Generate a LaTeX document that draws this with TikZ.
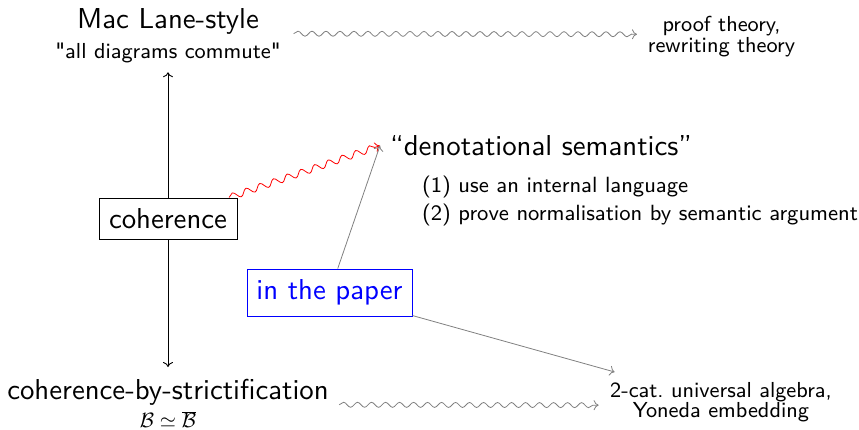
\documentclass[tikz,border=0pt]{standalone}
\usepackage{fontspec}
\newfontfamily\bigsf{lmsans10-regular.otf}
\newfontfamily\smallsf{lmsans9-regular.otf}
\usetikzlibrary{decorations.pathmorphing,arrows.meta}
\newcommand\tightlines{\lineskiplimit=-50pt\relax}
\newcommand\bigtext{\bigsf\fontsize{28.8}{34}\selectfont}
\begin{document}
\begin{tikzpicture}[x=1pt,y=-1pt,
  big/.style={font=\bigtext},
  small/.style={font=\smallsf\fontsize{22}{26}\selectfont},
  plain/.style={inner sep=0pt, outer sep=0pt},
  boxed/.style={draw, line width=1pt, inner sep=0pt, minimum width=138pt, minimum height=41pt},
  arr/.style={line width=0.9pt, -{To[length=5pt,width=10pt]}},
  grayarr/.style={draw=gray, line width=0.8pt, -{To[length=5pt,width=10pt]}},
  wavy/.style={draw=gray, line width=0.8pt, -{To[length=5pt,width=10pt]},
    decorate, decoration={snake, segment length=14pt, amplitude=2.5pt, post length=5pt}},
  redwavy/.style={draw=red, line width=0.8pt, -{To[length=5pt,width=10pt]},
    decorate, decoration={snake, segment length=14.5pt, amplitude=3.3pt, post length=5pt}}
]
\useasboundingbox (0,0) rectangle (859,429);

% left column
\node[plain, align=center, anchor=north, font=\smallsf\fontsize{21.7}{29.5}\selectfont] (maclane) at (168,9)
  {{\bigtext Mac Lane-style}\\"all diagrams commute"};
\node[boxed, big] (coherence) at (168,218.5) {coherence};
\node[plain, align=center, anchor=north, font=\smallsf\fontsize{21.7}{28}\selectfont\tightlines] (strict) at (168,379)
  {{\bigtext coherence-by-strictification}\\$\mathcal{B}\simeq\overline{\mathcal{B}}$};

% right column
\node[plain, align=center, anchor=north, font=\smallsf\fontsize{21.7}{21}\selectfont\tightlines] (proof) at (721.5,15.9)
  {proof theory,\\rewriting theory};
\node[big, inner xsep=10pt, inner ysep=0pt, anchor=base west] (denot) at (380,155.5) {“denotational semantics”};
\node[small, plain, anchor=base west] (item1) at (422,192) {(1) use an internal language};
\node[small, plain, anchor=base west] (item2) at (422,220) {(2) prove normalisation by semantic argument};
\node[plain, align=center, anchor=north, font=\smallsf\fontsize{21.7}{20}\selectfont\tightlines] (alg) at (721,382.9)
  {2-cat.\ universal algebra,\\Yoneda embedding};

\node[draw=blue, text=blue, line width=1pt, big, inner sep=0pt, minimum width=165pt, minimum height=47pt] (paper) at (329.5,292.5) {in the paper};

% connectors
\draw[arr, shorten >=9.3pt] (coherence.north) -- (maclane.south);
\draw[arr, shorten >=12pt] (coherence.south) -- (strict.north);
\draw[wavy] ([xshift=13pt,yshift=2.3pt]maclane.east) -- ([xshift=-11pt,yshift=2pt]proof.west);
\draw[wavy] ([xshift=10.5pt,yshift=-1.6pt]strict.east) -- ([xshift=-11.5pt,yshift=-2.5pt]alg.west);
\draw[redwavy] (coherence) -- (denot.west);
\draw[grayarr] (paper) -- (denot.west);
\draw[grayarr] (paper) -- ([xshift=4.5pt,yshift=10.9pt]alg.north west);
\end{tikzpicture}
\end{document}
